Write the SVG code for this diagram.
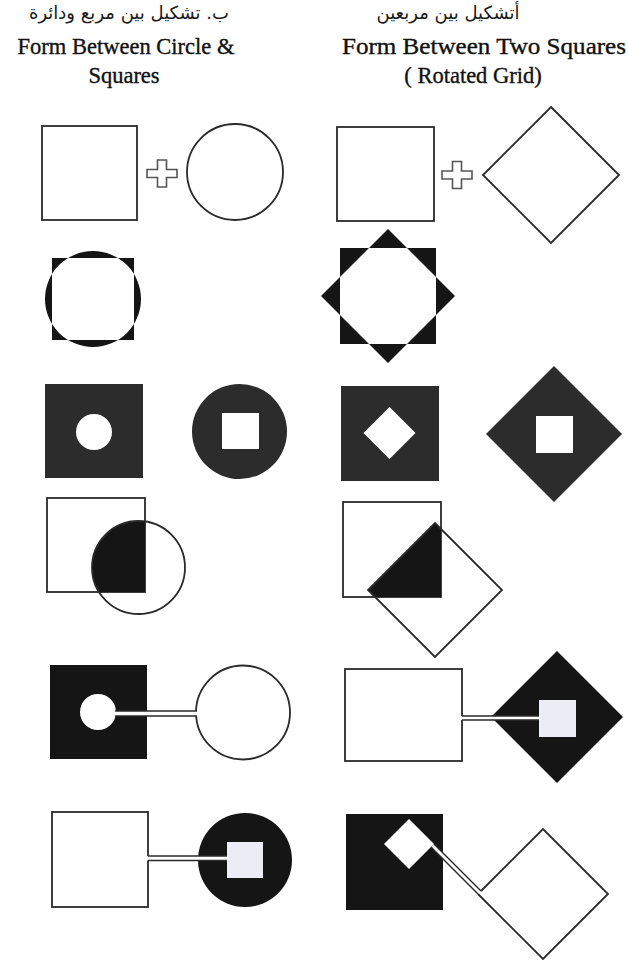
<svg xmlns="http://www.w3.org/2000/svg" width="628" height="962" viewBox="0 0 628 962">
<style>
.bg{fill:#fff}
.o{fill:#fff;stroke:#2a2a2a;stroke-width:1.8}
.ol{fill:none;stroke:#2a2a2a;stroke-width:1.8}
.k{fill:#151515}
.g{fill:#2c2c2c}
.w{fill:#fff}
.lav{fill:#ececf4}
.plus{fill:#fff;stroke:#555;stroke-width:1.6}
.ch{stroke:#2a2a2a;stroke-width:1.5;fill:none}
.ar{font-family:"DejaVu Sans",sans-serif;font-size:18px;fill:#1a1a1a}
.en{font-family:"Liberation Serif","Times New Roman",serif;font-size:22.5px;fill:#111;stroke:#111;stroke-width:0.35}
</style>
<defs>
<clipPath id="clipSqL"><rect x="47" y="498" width="98" height="94"/></clipPath>
<clipPath id="clipSqR"><rect x="343" y="502" width="98" height="95"/></clipPath>
</defs>
<rect class="bg" x="0" y="0" width="628" height="962"/>

<g id="header-left" text-anchor="middle">
<text class="ar" x="129" y="19" direction="rtl">ب. تشكيل بين مربع ودائرة</text>
<text class="en" x="126" y="54">Form Between Circle &amp;</text>
<text class="en" x="124" y="83">Squares</text>
</g>
<g id="header-right" text-anchor="middle">
<text class="ar" x="448" y="19" direction="rtl">أتشكيل بين مربعين</text>
<text class="en" x="484" y="54" textLength="284" lengthAdjust="spacingAndGlyphs">Form Between Two Squares</text>
<text class="en" x="473" y="83">( Rotated Grid)</text>
</g>

<!-- Row 1 left -->
<g id="r1l-square"><rect class="o" x="42" y="126" width="95" height="94"/></g>
<g id="r1l-plus"><path class="plus" d="M157.5 160 H166.5 V169.5 H177 V177.5 H166.5 V187 H157.5 V177.5 H147 V169.5 H157.5 Z"/></g>
<g id="r1l-circle"><circle class="o" cx="235" cy="172" r="48"/></g>

<!-- Row 1 right -->
<g id="r1r-square"><rect class="o" x="337" y="127" width="97" height="94"/></g>
<g id="r1r-plus"><path class="plus" d="M452.5 161.5 H461.5 V171 H472 V179 H461.5 V188.5 H452.5 V179 H442 V171 H452.5 Z"/></g>
<g id="r1r-diamond"><polygon class="o" points="551,107 619,175 551,243 483,175"/></g>

<!-- Row 2 -->
<g id="r2l-xor"><path class="k" fill-rule="evenodd" d="M52 258 H134 V340 H52 Z M45 299 A48 48 0 1 0 141 299 A48 48 0 1 0 45 299 Z"/></g>
<g id="r2r-star"><path class="k" fill-rule="evenodd" d="M340 248 H436 V344 H340 Z M388 229 L455 296 L388 363 L321 296 Z"/></g>

<!-- Row 3 left -->
<g id="r3l-square-hole"><path class="g" fill-rule="evenodd" d="M45 384 H143 V478 H45 Z M76 432 A18 18 0 1 0 112 432 A18 18 0 1 0 76 432 Z"/></g>
<g id="r3l-circle-hole"><path class="g" fill-rule="evenodd" d="M192 431.5 A47.5 47.5 0 1 0 287 431.5 A47.5 47.5 0 1 0 192 431.5 Z M222 413 H259 V449 H222 Z"/></g>

<!-- Row 3 right -->
<g id="r3r-square-hole"><path class="g" fill-rule="evenodd" d="M341 386 H439 V481 H341 Z M389.5 407 L415.5 433 L389.5 459 L363.5 433 Z"/></g>
<g id="r3r-diamond-hole"><path class="g" fill-rule="evenodd" d="M554 366 L622 434 L554 502 L486 434 Z M536 416 H573 V453 H536 Z"/></g>

<!-- Row 4 left -->
<g id="r4l-overlap">
<rect class="o" x="47" y="498" width="98" height="94"/>
<circle class="k" cx="138.5" cy="567.5" r="46.5" clip-path="url(#clipSqL)"/>
<circle class="ol" cx="138.5" cy="567.5" r="46.5"/>
</g>

<!-- Row 4 right -->
<g id="r4r-overlap">
<rect class="o" x="343" y="502" width="98" height="95"/>
<polygon class="k" points="435,523 502,590 435,657 368,590" clip-path="url(#clipSqR)"/>
<polygon class="ol" points="435,523 502,590 435,657 368,590"/>
</g>

<!-- Row 5 left -->
<g id="r5l-square-hole"><path class="k" fill-rule="evenodd" d="M50 665 H147 V759 H50 Z M80 712 A18 18 0 1 0 116 712 A18 18 0 1 0 80 712 Z"/></g>
<g id="r5l-circle"><circle class="o" cx="243" cy="712.5" r="47"/></g>

<!-- Row 5 right -->
<g id="r5r-rect"><rect class="o" x="345" y="669" width="117" height="92"/></g>
<g id="r5r-diamond"><polygon class="k" points="557,651 623,717 557,783 491,717"/><rect class="lav" x="539" y="700" width="37" height="37"/></g>

<!-- Row 6 left -->
<g id="r6l-square"><rect class="o" x="52" y="812" width="96" height="95"/></g>
<g id="r6l-circle"><circle class="k" cx="245" cy="860" r="47"/><rect class="lav" x="227" y="842" width="36" height="36"/></g>

<!-- Row 6 right -->
<g id="r6r-square"><rect class="k" x="346" y="814" width="97" height="96"/><polygon class="w" points="409,819 434,844 409,869 384,844"/></g>
<g id="r6r-diamond"><polyline class="ol" points="481,891 543,829 608,894 543,959 478,894"/></g>

<g id="connectors">
<!-- row 5 left -->
<rect class="w" x="114" y="711" width="84" height="5"/>
<line class="ch" x1="115" y1="711" x2="197" y2="711"/>
<line class="ch" x1="115" y1="716" x2="197" y2="716"/>
<!-- row 5 right -->
<rect class="w" x="461" y="716" width="79" height="4"/>
<line class="ch" x1="462" y1="716" x2="539" y2="716"/>
<line class="ch" x1="462" y1="720" x2="539" y2="720"/>
<!-- row 6 left -->
<rect class="w" x="147" y="856" width="81" height="4.5"/>
<line class="ch" x1="148" y1="856" x2="227" y2="856"/>
<line class="ch" x1="148" y1="860.5" x2="227" y2="860.5"/>
<!-- row 6 right -->
<polygon class="w" points="434,844 481,891 478,894 431,847"/>
<line class="ch" x1="434" y1="844" x2="481" y2="891"/>
<line class="ch" x1="431" y1="847" x2="478" y2="894"/>
</g>
</svg>
